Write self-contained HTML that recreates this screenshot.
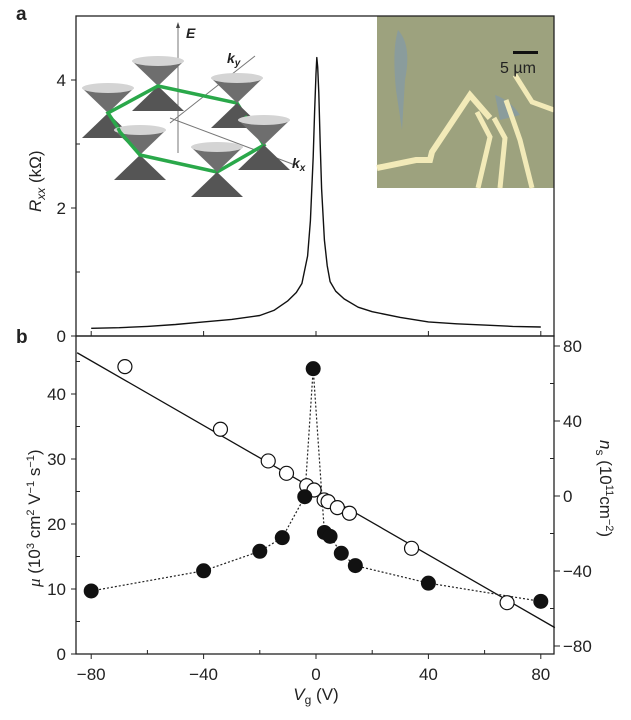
<!DOCTYPE html>
<html><head><meta charset="utf-8"><style>
body{margin:0;background:#fff;width:631px;height:715px;overflow:hidden}
svg text{font-family:"Liberation Sans",sans-serif;fill:#222}
</style></head><body>
<svg id="c" width="631" height="715" xmlns="http://www.w3.org/2000/svg">
<g id="insets"></g>
<g id="toppanel"></g>
<g id="botpanel"></g>
</svg>
<script>
// top panel: R_xx vs Vg (readings)
const rV=[-80,-70,-60,-50,-40,-30,-20,-15,-10,-7,-5,-3,-2,-1,-0.5,0,0.3,0.6,1,1.5,2,3,4,5,7,10,15,20,30,40,50,60,70,80];
const rR=[0.12,0.13,0.15,0.18,0.22,0.26,0.32,0.4,0.55,0.68,0.82,1.25,1.8,2.8,3.5,4.1,4.35,4.2,3.8,3.0,2.3,1.5,1.1,0.85,0.7,0.58,0.45,0.38,0.29,0.22,0.19,0.17,0.15,0.14];
const rTicks=[0,2,4];
// bottom panel
const muV=[-80,-40,-20,-12,-4,-1,3,5,9,14,40,80];
const muVal=[9.7,12.8,15.8,17.9,24.2,43.9,18.7,18.1,15.5,13.6,10.9,8.1];
const nV=[-68,-34,-17,-10.5,-3.3,-0.7,2.9,4.3,7.6,11.9,34,68];
const nVal=[69,35.6,18.7,12.1,5.5,3.2,-2.1,-3,-6.2,-9.2,-27.9,-56.9];
const fitV=[-85,85];
const fitN=[76.4,-70.2];
const xTicks=[-80,-40,0,40,80];
const muTicks=[0,10,20,30,40];
const nTicks=[80,40,0,-40,-80];

const NS="http://www.w3.org/2000/svg";
function mk(p,t,a){const e=document.createElementNS(NS,t);for(const k in a)e.setAttribute(k,a[k]);p.appendChild(e);return e;}
const L=76,R=554,T1=16,B1=336,T2=336,B2=654;
const X=v=>316+v*2.81;
const Yr=r=>B1-r*64;
const Ym=m=>B2-m*6.5;
const Yn=n=>496-n*1.875;
const gTop=document.getElementById('toppanel'),gBot=document.getElementById('botpanel'),gIns=document.getElementById('insets');

let f1=mk(gTop,'rect',{x:L,y:T1,width:R-L,height:B1-T1,fill:'none',stroke:'#222','stroke-width':1.3});


let f2=mk(gBot,'rect',{x:L,y:T2,width:R-L,height:B2-T2,fill:'none',stroke:'#222','stroke-width':1.3});



// photo inset
let ph=mk(gIns,'g',{});


mk(ph,'rect',{x:377,y:16,width:177,height:172,fill:'#9da27e'});
mk(ph,'path',{d:'M398 30 Q412 45 405 80 L402 130 L396 90 Q392 50 398 30 Z',fill:'#8a9c9c'});
mk(ph,'path',{d:'M495 95 Q510 100 520 115 L500 120 Z',fill:'#8a9c9c'});
mk(ph,'polyline',{points:'377,168 416,160 430,160 432,152 470,95 490,118',fill:'none',stroke:'#f2eab8','stroke-width':6});
mk(ph,'polyline',{points:'477,112 490,137 478,188',fill:'none',stroke:'#f2eab8','stroke-width':5});
mk(ph,'polyline',{points:'494,118 505,138 500,188',fill:'none',stroke:'#f2eab8','stroke-width':5});
mk(ph,'polyline',{points:'506,100 520,140 532,188',fill:'none',stroke:'#f2eab8','stroke-width':5});
mk(ph,'polyline',{points:'515,75 532,102 554,110',fill:'none',stroke:'#f2eab8','stroke-width':5});
mk(ph,'rect',{x:513,y:51,width:25,height:3,fill:'#111'});
let sb=mk(ph,'text',{x:500,y:73,'font-size':16});
sb.textContent='5 µm';



// Dirac cones inset
let cn=mk(gIns,'g',{});


mk(cn,'line',{x1:178,y1:153,x2:178,y2:25,stroke:'#777','stroke-width':1});
mk(cn,'polygon',{points:'178,22 176,28 180,28',fill:'#444'});
mk(cn,'line',{x1:170,y1:123,x2:255,y2:56,stroke:'#777','stroke-width':1});
mk(cn,'line',{x1:170,y1:118,x2:295,y2:165,stroke:'#777','stroke-width':1});
const cones=[[158,86],[108,113],[237,103],[264,145],[140,155],[217,172]];
function cone(cx,cy){
  mk(cn,'polygon',{points:`${cx-26},${cy-25} ${cx+26},${cy-25} ${cx},${cy}`,fill:'#6e6e6e'});
  mk(cn,'ellipse',{cx:cx,cy:cy-25,rx:26,ry:5,fill:'#d4d4d4'});
  mk(cn,'polygon',{points:`${cx},${cy} ${cx-26},${cy+25} ${cx+26},${cy+25}`,fill:'#555'});
}
cone(108,113);cone(158,86);
mk(cn,'polyline',{points:'118,128 108,113 158,86 237,103 245,116',fill:'none',stroke:'#2aa84a','stroke-width':3.5});
cone(237,103);cone(140,155);
mk(cn,'polyline',{points:'118,128 120,132 140,155 217,172 264,145 245,116',fill:'none',stroke:'#2aa84a','stroke-width':3.5});
cone(264,145);cone(217,172);
let e=mk(cn,'text',{x:186,y:38,'font-size':14,'font-style':'italic','font-weight':'bold','font-family':'Liberation Serif'});
e.textContent='E';
let ky=mk(cn,'text',{x:227,y:63,'font-size':14,'font-style':'italic','font-weight':'bold','font-family':'Liberation Serif'});
ky.innerHTML='k<tspan font-size="10" dy="3">y</tspan>';
let kx=mk(cn,'text',{x:292,y:168,'font-size':14,'font-style':'italic','font-weight':'bold','font-family':'Liberation Serif'});
kx.innerHTML='k<tspan font-size="10" dy="3">x</tspan>';

// top axis ticks
rTicks.forEach(t=>{mk(gTop,'line',{x1:L-5,y1:Yr(t),x2:L,y2:Yr(t),stroke:'#222'});
 const tx=mk(gTop,'text',{x:L-10,y:Yr(t)+6,'font-size':17,'text-anchor':'end'});
 tx.textContent=t;
 
 });
[1,3].forEach(t=>mk(gTop,'line',{x1:L,y1:Yr(t),x2:L+4,y2:Yr(t),stroke:'#222'}));
xTicks.forEach(t=>mk(gTop,'line',{x1:X(t),y1:B1,x2:X(t),y2:B1-5,stroke:'#222'}));
let ry=mk(gTop,'text',{transform:`translate(41,${(T1+B1)/2+36}) rotate(-90)`,'font-size':17});
ry.innerHTML='<tspan font-style="italic">R</tspan><tspan font-style="italic" font-size="12" dy="4">xx</tspan><tspan dy="-4"> (kΩ)</tspan>';


let pa=mk(gTop,'text',{x:16,y:20,'font-size':19,'font-weight':'bold'});
pa.textContent='a';
let pb=mk(gBot,'text',{x:16,y:343,'font-size':19,'font-weight':'bold'});
pb.textContent='b';
let d='';rV.forEach((v,i)=>{d+=(i?'L':'M')+X(v).toFixed(1)+' '+Yr(rR[i]).toFixed(1);});
let rc=mk(gTop,'path',{d:d,fill:'none',stroke:'#111','stroke-width':1.4,'stroke-linejoin':'round'});



// bottom axes
xTicks.forEach(t=>{mk(gBot,'line',{x1:X(t),y1:B2,x2:X(t),y2:B2+5,stroke:'#222'});
 const tx=mk(gBot,'text',{x:X(t),y:B2+26,'font-size':17,'text-anchor':'middle'});
 tx.textContent=t<0?'−'+(-t):t;
 
 });
[-60,-20,20,60].forEach(t=>mk(gBot,'line',{x1:X(t),y1:B2,x2:X(t),y2:B2-4,stroke:'#222'}));
muTicks.forEach(t=>{mk(gBot,'line',{x1:L-5,y1:Ym(t),x2:L,y2:Ym(t),stroke:'#222'});
 const tx=mk(gBot,'text',{x:L-10,y:Ym(t)+6,'font-size':17,'text-anchor':'end'});
 tx.textContent=t;
 
 });
[5,15,25,35,45].forEach(t=>mk(gBot,'line',{x1:L,y1:Ym(t),x2:L+4,y2:Ym(t),stroke:'#222'}));
nTicks.forEach(t=>{mk(gBot,'line',{x1:R,y1:Yn(t),x2:R+6,y2:Yn(t),stroke:'#222'});
 const tx=mk(gBot,'text',{x:R+9,y:Yn(t)+6,'font-size':17});
 tx.textContent=t<0?'−'+(-t):t;
 
 });
[60,20,-20,-60].forEach(t=>mk(gBot,'line',{x1:R,y1:Yn(t),x2:R-4,y2:Yn(t),stroke:'#222'}));
let xt=mk(gBot,'text',{x:X(0),y:700,'font-size':17,'text-anchor':'middle'});
xt.innerHTML='<tspan font-style="italic">V</tspan><tspan font-size="12" dy="4">g</tspan><tspan dy="-4"> (V)</tspan>';


let my=mk(gBot,'text',{transform:`translate(40,${(T2+B2)/2+92}) rotate(-90)`,'font-size':17});
my.innerHTML='<tspan font-style="italic" font-family="Liberation Serif">μ</tspan> (10<tspan font-size="11" dy="-6">3</tspan><tspan dy="6"> cm</tspan><tspan font-size="11" dy="-6">2</tspan><tspan dy="6"> V</tspan><tspan font-size="11" dy="-6">−1</tspan><tspan dy="6"> s</tspan><tspan font-size="11" dy="-6">−1</tspan><tspan dy="6">)</tspan>';


let ny=mk(gBot,'text',{transform:`translate(600,${(T2+B2)/2-55}) rotate(90)`,'font-size':17});
ny.innerHTML='<tspan font-style="italic">n</tspan><tspan font-size="12" dy="4">s</tspan><tspan dy="-4"> (10</tspan><tspan font-size="11" dy="-6">11</tspan><tspan dy="6">cm</tspan><tspan font-size="11" dy="-6">−2</tspan><tspan dy="6">)</tspan>';



// fit line
let fl=mk(gBot,'line',{x1:X(fitV[0]),y1:Yn(fitN[0]),x2:X(fitV[1]),y2:Yn(fitN[1]),stroke:'#111','stroke-width':1.3});


d='';muV.forEach((v,i)=>{d+=(i?'L':'M')+X(v).toFixed(1)+' '+Ym(muVal[i]).toFixed(1);});
let ml=mk(gBot,'path',{d:d,fill:'none',stroke:'#222','stroke-width':1.2,'stroke-dasharray':'2,2'});


nV.forEach((v,i)=>{const c=mk(gBot,'circle',{cx:X(v),cy:Yn(nVal[i]),r:7,fill:'#fff',stroke:'#111','stroke-width':1.2});
 
 });
muV.forEach((v,i)=>{const c=mk(gBot,'circle',{cx:X(v),cy:Ym(muVal[i]),r:7.5,fill:'#111'});
 
 });
</script>
</body></html>
